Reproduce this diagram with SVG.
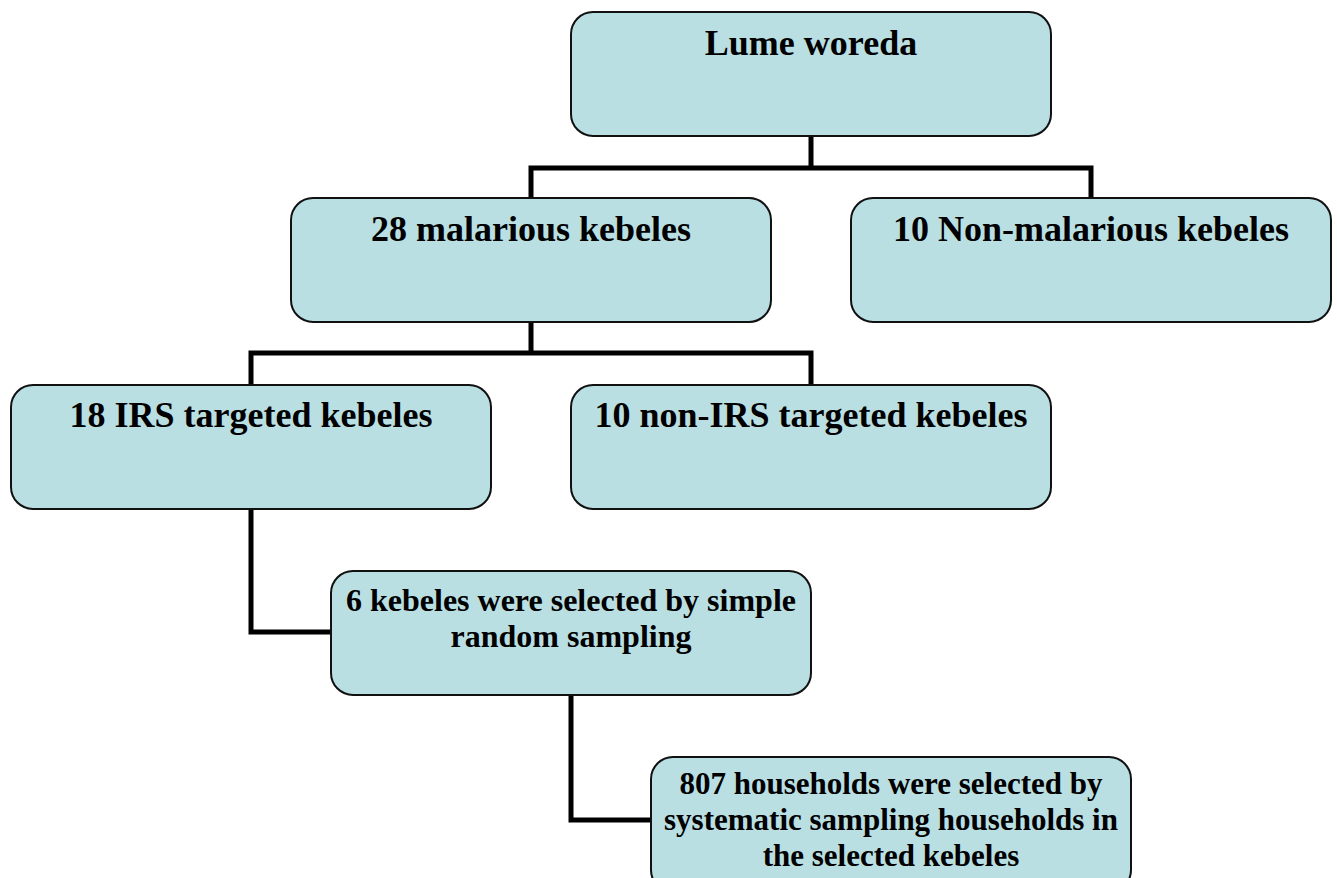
<svg xmlns="http://www.w3.org/2000/svg" width="1337" height="878" viewBox="0 0 1337 878">
<style>
.box{fill:#B9DFE3;stroke:#111;stroke-width:2}
.t{font-family:"Liberation Serif","Times New Roman",serif;font-weight:bold;fill:#000;text-anchor:middle}
.t1{font-size:36px}
.t2{font-size:32px}
.t3{font-size:31px}
.c{fill:none;stroke:#000;stroke-width:5;stroke-linejoin:miter;stroke-linecap:square}
</style>
<rect width="1337" height="878" fill="#fff"/>
<g id="connectors">
<path class="c" d="M811 137 V168 M531 168 H1091 M531 168 V197 M1091 168 V197"/>
<path class="c" d="M531 323 V353 M251 353 H811 M251 353 V384 M811 353 V384"/>
<path class="c" d="M251 510 V632 H330"/>
<path class="c" d="M571 696 V820 H650"/>
</g>
<g id="n1"><rect class="box" x="571" y="12" width="480" height="124" rx="22"/><text class="t t1" x="811" y="55">Lume woreda</text></g>
<g id="n2"><rect class="box" x="291" y="198" width="480" height="124" rx="22"/><text class="t t1" x="531" y="241">28 malarious kebeles</text></g>
<g id="n3"><rect class="box" x="851" y="198" width="480" height="124" rx="22"/><text class="t t1" x="1091" y="241">10 Non-malarious kebeles</text></g>
<g id="n4"><rect class="box" x="11" y="385" width="480" height="124" rx="22"/><text class="t t1" x="251" y="427">18 IRS targeted kebeles</text></g>
<g id="n5"><rect class="box" x="571" y="385" width="480" height="124" rx="22"/><text class="t t1" x="811" y="427">10 non-IRS targeted kebeles</text></g>
<g id="n6"><rect class="box" x="331" y="571" width="480" height="124" rx="22"/><text class="t t2" x="571" y="611">6 kebeles were selected by simple</text><text class="t t2" x="571" y="647">random sampling</text></g>
<g id="n7"><rect class="box" x="651" y="757" width="480" height="135" rx="22"/><text class="t t3" x="891" y="794">807 households were selected by</text><text class="t t3" x="891" y="830">systematic sampling households in</text><text class="t t3" x="891" y="866">the selected kebeles</text></g>
</svg>
